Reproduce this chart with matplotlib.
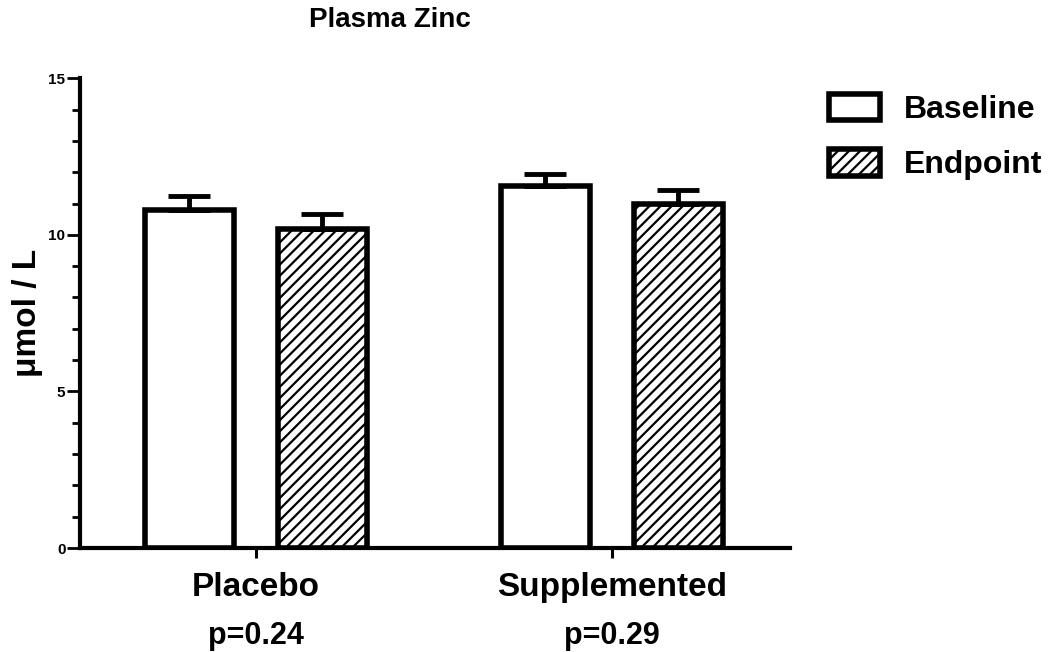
import matplotlib
matplotlib.use("Agg")
import matplotlib.pyplot as plt
import numpy as np
from matplotlib.patches import Patch
from matplotlib.ticker import MultipleLocator

plt.rcParams['font.family'] = ['Liberation Sans', 'DejaVu Sans']
plt.rcParams['font.weight'] = 'bold'
plt.rcParams['hatch.linewidth'] = 1.6

groups = ["Placebo", "Supplemented"]
p_values = ["p=0.24", "p=0.29"]
series = ["Baseline", "Endpoint"]
baseline = [10.8, 11.56]
baseline_sem = [0.45, 0.38]
endpoint = [10.2, 11.0]
endpoint_sem = [0.48, 0.44]

fig = plt.figure(figsize=(10.5, 6.52), dpi=100)
ax = fig.add_axes([0.0762, 0.1595, 0.676, 0.7205])

x = np.arange(len(groups))
w = 0.25
off = 0.187
lw = 4.0

ax.bar(x - off, baseline, w, color="white", edgecolor="black", linewidth=lw,
       yerr=[[0, 0], baseline_sem], capsize=15,
       error_kw=dict(elinewidth=3.5, capthick=3.5, ecolor="black"), zorder=3)
ax.bar(x + off, endpoint, w, color="white", edgecolor="black", linewidth=lw,
       hatch="///", yerr=[[0, 0], endpoint_sem], capsize=15,
       error_kw=dict(elinewidth=3.5, capthick=3.5, ecolor="black"), zorder=3)

ax.set_xlim(-0.494, 1.5)
ax.set_ylim(0, 15)
ax.set_xticks(x)
ax.set_xticklabels(groups, fontsize=24, fontweight="bold")
ax.yaxis.set_major_locator(MultipleLocator(5))
ax.yaxis.set_minor_locator(MultipleLocator(1))
ax.tick_params(axis="y", which="major", length=9.5, width=2, labelsize=11, pad=1)
ax.tick_params(axis="y", which="minor", length=5.5, width=2)
ax.tick_params(axis="x", which="major", length=7, width=2.2, pad=10)

for sp in ["top", "right"]:
    ax.spines[sp].set_visible(False)
for sp in ["left", "bottom"]:
    ax.spines[sp].set_linewidth(3)

for xi, pv in zip(x, p_values):
    ax.text(xi, -0.188, pv, transform=ax.get_xaxis_transform(), ha="center",
            va="center", fontsize=22, fontweight="bold")

ax.set_ylabel("\u03bcmol / L", fontsize=24, fontweight="bold")
ax.yaxis.set_label_coords(-0.052, 0.5)
ax.set_title("Plasma Zinc", fontsize=20, fontweight="bold", x=0.437, pad=37)

handles = [Patch(facecolor="white", edgecolor="black", linewidth=lw),
           Patch(facecolor="white", edgecolor="black", linewidth=lw, hatch="///")]
fig.legend(handles, series, loc="upper left", bbox_to_anchor=(0.762, 0.90),
           frameon=False, handlelength=1.6, handleheight=0.9,
           labelspacing=0.75, handletextpad=0.75, prop=dict(weight="bold", size=23))

fig.savefig("out.png", dpi=100)
